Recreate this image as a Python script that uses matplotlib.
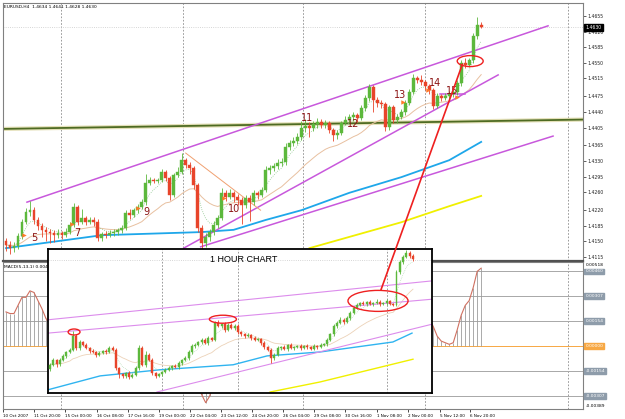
import numpy as np
import matplotlib
matplotlib.use("Agg")
import matplotlib.pyplot as plt
from matplotlib.patches import Ellipse, ConnectionPatch

# ---------------- EURUSD H4 candles ----------------
h4_first_open = 1.4150
h4_close = [1.4142, 1.4135, 1.4140, 1.4162, 1.4194, 1.4216, 1.4220, 1.4198, 1.4185, 1.4176,
            1.4171, 1.4169, 1.4164, 1.4169, 1.4164, 1.4171, 1.4187, 1.4227, 1.4194, 1.4203,
            1.4194, 1.4198, 1.4194, 1.4158, 1.4167, 1.4164, 1.4169, 1.4171, 1.4176, 1.4180,
            1.4214, 1.4209, 1.4220, 1.4227, 1.4238, 1.4281, 1.4288, 1.4286, 1.4288, 1.4306,
            1.4292, 1.4254, 1.4299, 1.4306, 1.4332, 1.4321, 1.4315, 1.4276, 1.4180, 1.4147,
            1.4160, 1.4171, 1.4187, 1.4203, 1.4259, 1.4250, 1.4259, 1.4250, 1.4243, 1.4232,
            1.4247, 1.4238, 1.4259, 1.4254, 1.4265, 1.4310, 1.4315, 1.4319, 1.4326, 1.4328,
            1.4362, 1.4371, 1.4375, 1.4384, 1.4404, 1.4409, 1.4404, 1.4413, 1.4418, 1.4411,
            1.4415, 1.4400, 1.4388, 1.4393, 1.4415, 1.4422, 1.4429, 1.4433, 1.4427, 1.4449,
            1.4471, 1.4496, 1.4467, 1.4460, 1.4458, 1.4406, 1.4451, 1.4422, 1.4429, 1.4440,
            1.4460, 1.4485, 1.4516, 1.4512, 1.4507, 1.4498, 1.4489, 1.4453, 1.4476, 1.4471,
            1.4476, 1.4480, 1.4485, 1.4505, 1.4550, 1.4545, 1.4556, 1.4610, 1.4634, 1.4630]
h4_high = [1.4158, 1.4150, 1.4148, 1.4168, 1.4200, 1.4225, 1.4240, 1.4228, 1.4205, 1.4192,
           1.4182, 1.4178, 1.4175, 1.4177, 1.4174, 1.4180, 1.4194, 1.4236, 1.4232, 1.4222,
           1.4208, 1.4205, 1.4204, 1.4200, 1.4172, 1.4173, 1.4175, 1.4178, 1.4181, 1.4186,
           1.4220, 1.4222, 1.4226, 1.4234, 1.4244, 1.4300, 1.4294, 1.4292, 1.4293, 1.4312,
           1.4310, 1.4296, 1.4304, 1.4316, 1.4348, 1.4338, 1.4328, 1.4320, 1.4282, 1.4186,
           1.4168, 1.4178, 1.4195, 1.4210, 1.4270, 1.4266, 1.4268, 1.4264, 1.4256, 1.4250,
           1.4255, 1.4254, 1.4266, 1.4264, 1.4272, 1.4318, 1.4322, 1.4326, 1.4334, 1.4336,
           1.4370, 1.4378, 1.4383, 1.4392, 1.4420, 1.4424, 1.4418, 1.4420, 1.4426, 1.4424,
           1.4422, 1.4420, 1.4405, 1.4400, 1.4420, 1.4430, 1.4436, 1.4440, 1.4438, 1.4456,
           1.4478, 1.4502, 1.4500, 1.4474, 1.4466, 1.4462, 1.4456, 1.4456, 1.4436, 1.4446,
           1.4466, 1.4492, 1.4524, 1.4520, 1.4522, 1.4512, 1.4502, 1.4494, 1.4482, 1.4480,
           1.4482, 1.4486, 1.4492, 1.4512, 1.4556, 1.4560, 1.4562, 1.4618, 1.4652, 1.4641]
h4_low = [1.4128, 1.4122, 1.4126, 1.4134, 1.4155, 1.4188, 1.4208, 1.4190, 1.4176, 1.4160,
          1.4150, 1.4146, 1.4148, 1.4158, 1.4155, 1.4160, 1.4166, 1.4182, 1.4186, 1.4188,
          1.4186, 1.4189, 1.4185, 1.4150, 1.4152, 1.4157, 1.4159, 1.4163, 1.4165, 1.4170,
          1.4176, 1.4200, 1.4204, 1.4214, 1.4222, 1.4232, 1.4276, 1.4280, 1.4280, 1.4284,
          1.4286, 1.4243, 1.4250, 1.4295, 1.4300, 1.4314, 1.4300, 1.4268, 1.4172, 1.4133,
          1.4138, 1.4150, 1.4165, 1.4180, 1.4198, 1.4240, 1.4244, 1.4238, 1.4232, 1.4190,
          1.4225, 1.4196, 1.4232, 1.4246, 1.4250, 1.4260, 1.4302, 1.4308, 1.4312, 1.4318,
          1.4322, 1.4355, 1.4364, 1.4368, 1.4378, 1.4396, 1.4385, 1.4398, 1.4405, 1.4404,
          1.4403, 1.4392, 1.4374, 1.4380, 1.4388, 1.4410, 1.4416, 1.4420, 1.4418, 1.4422,
          1.4442, 1.4465, 1.4440, 1.4452, 1.4450, 1.4398, 1.4400, 1.4415, 1.4416, 1.4424,
          1.4434, 1.4455, 1.4480, 1.4504, 1.4500, 1.4490, 1.4480, 1.4446, 1.4448, 1.4464,
          1.4466, 1.4470, 1.4474, 1.4478, 1.4498, 1.4538, 1.4540, 1.4550, 1.4604, 1.4628]

# MACD(5,13,1) main value per H4 bar
macd = [0.0021, 0.0020, 0.0020, 0.0025, 0.0030, 0.0030, 0.0034, 0.0033, 0.0028, 0.0023,
        0.0017, 0.0013, 0.0009, 0.0006, 0.0003, 0.0003, 0.0007, 0.0018, 0.0014, 0.0013,
        0.0010, 0.0009, 0.0007, -0.0003, -0.0004, -0.0005, -0.0004, -0.0003, -0.0001, 0.0001,
        0.0012, 0.0014, 0.0017, 0.0020, 0.0024, 0.0038, 0.0042, 0.0040, 0.0037, 0.0038,
        0.0033, 0.0018, 0.0024, 0.0026, 0.0032, 0.0030, 0.0026, 0.0010, -0.0024, -0.0030,
        -0.0035, -0.0031, -0.0022, -0.0014, 0.0005, 0.0008, 0.0012, 0.0011, 0.0008, 0.0004,
        0.0006, 0.0004, 0.0009, 0.0009, 0.0012, 0.0025, 0.0029, 0.0030, 0.0031, 0.0030,
        0.0038, 0.0040, 0.0039, 0.0038, 0.0042, 0.0040, 0.0035, 0.0033, 0.0030, 0.0025,
        0.0022, 0.0014, 0.0006, 0.0005, 0.0012, 0.0016, 0.0019, 0.0020, 0.0017, 0.0023,
        0.0032, 0.0040, 0.0030, 0.0024, 0.0019, 0.0002, 0.0010, 0.0004, 0.0004, 0.0007,
        0.0014, 0.0022, 0.0032, 0.0030, 0.0026, 0.0021, 0.0017, 0.0012, 0.0006, 0.0003,
        0.0002, 0.0001, 0.0002, 0.0010, 0.0019, 0.0025, 0.0028, 0.0036, 0.0046, 0.0048]

# long moving averages (bar index, price)
blue_bars = [0, 24, 49, 57, 65, 74, 86, 99, 111, 119]
blue_vals = [1.4135, 1.4164, 1.4171, 1.4176, 1.4198, 1.4220, 1.4259, 1.4294, 1.4332, 1.4373]
yellow_bars = [76, 99, 111, 119]
yellow_vals = [1.4135, 1.4193, 1.4229, 1.4252]

# drawn objects: trend lines ((bar0, price0), (bar1, price1))
channel_lines = [((5.25, 1.4238), (135.75, 1.4633)),
                 ((44.5, 1.4135), (123.25, 1.4523)),
                 ((48.75, 1.4138), (137.0, 1.4386)),
                 ((108.75, 1.4480), (115.0, 1.4480))]
olive_line = ((-1.25, 1.4402), (144.5, 1.4423))
orange_line = ((45.0, 1.4348), (63.75, 1.4220))

wave_labels = ["5", "7", "9", "10", "11", "12", "13", "14", "15"]
wave_bars = [7.0, 17.75, 35.25, 57.0, 75.5, 87.0, 98.75, 107.5, 111.75]
wave_prices = [1.4158, 1.4169, 1.4216, 1.4223, 1.4427, 1.4413, 1.4478, 1.4505, 1.4487]
arrow_bars = [4.5, 16.5, 33.0, 54.5, 99.5, 105.75, 113.0]
arrow_prices = [1.4164, 1.4189, 1.4225, 1.4247, 1.4462, 1.4489, 1.4474]

price_ticks = [1.4655, 1.4620, 1.4585, 1.4550, 1.4515, 1.4475, 1.4440, 1.4405,
               1.4365, 1.4330, 1.4295, 1.4260, 1.4220, 1.4185, 1.4150, 1.4115]
macd_levels = [0.00460, 0.00307, 0.00154, 0.0, -0.00154, -0.00307]
grid_bars = [13.75, 44.25, 74.5, 105.0, 140.75]
date_bars = [-0.75, 7.0, 14.75, 22.75, 30.5, 38.25, 46.0, 53.75, 61.5, 69.25,
             77.25, 85.0, 93.0, 100.75, 108.75, 116.25]
date_labels = ["10 Oct 2007", "11 Oct 20:00", "15 Oct 00:00", "16 Oct 08:00",
               "17 Oct 16:00", "19 Oct 00:00", "22 Oct 04:00", "23 Oct 12:00",
               "24 Oct 20:00", "26 Oct 04:00", "29 Oct 08:00", "30 Oct 16:00",
               "1 Nov 08:00", "2 Nov 00:00", "5 Nov 12:00", "6 Nov 20:00"]

# ---------------- 1 hour chart (inset) ----------------
h1_first_open = 1.4430
h1_close = [1.4437, 1.4446, 1.4438, 1.4446, 1.4453, 1.4460, 1.4464, 1.4489, 1.4467, 1.4478,
            1.4473, 1.4467, 1.4462, 1.4460, 1.4455, 1.4458, 1.4462, 1.4460, 1.4467, 1.4464,
            1.4431, 1.4420, 1.4417, 1.4422, 1.4415, 1.4419, 1.4431, 1.4467, 1.4437, 1.4455,
            1.4446, 1.4422, 1.4417, 1.4420, 1.4424, 1.4428, 1.4431, 1.4435, 1.4433, 1.4440,
            1.4446, 1.4449, 1.4460, 1.4471, 1.4473, 1.4478, 1.4482, 1.4476, 1.4485, 1.4482,
            1.4512, 1.4507, 1.4510, 1.4500, 1.4509, 1.4503, 1.4507, 1.4496, 1.4492, 1.4489,
            1.4491, 1.4485, 1.4482, 1.4483, 1.4476, 1.4469, 1.4464, 1.4449, 1.4455, 1.4467,
            1.4469, 1.4465, 1.4473, 1.4467, 1.4469, 1.4471, 1.4467, 1.4471, 1.4469, 1.4465,
            1.4471, 1.4469, 1.4473, 1.4474, 1.4482, 1.4492, 1.4507, 1.4512, 1.4518, 1.4514,
            1.4521, 1.4530, 1.4539, 1.4545, 1.4548, 1.4546, 1.4550, 1.4546, 1.4548, 1.4550,
            1.4546, 1.4548, 1.4552, 1.4546, 1.4545, 1.4604, 1.4622, 1.4631, 1.4638, 1.4633,
            1.4627]
# wick lengths in pips above / below the body
h1_wick_up = [3, 4, 2, 3, 3, 2, 3, 8, 3, 4, 2, 3, 2, 3, 2, 3, 2, 3, 4, 3,
              3, 2, 3, 2, 3, 3, 4, 5, 4, 6, 4, 3, 2, 3, 2, 3, 3, 2, 3, 3,
              2, 3, 4, 3, 3, 2, 4, 3, 3, 2, 4, 5, 3, 4, 3, 3, 4, 3, 2, 3,
              3, 2, 3, 3, 2, 3, 2, 3, 4, 3, 2, 3, 2, 3, 2, 2, 3, 2, 3, 2,
              3, 2, 3, 3, 4, 3, 4, 3, 5, 3, 3, 4, 3, 3, 2, 3, 2, 3, 2, 5,
              3, 2, 3, 2, 3, 4, 3, 3, 6, 4, 3]
h1_wick_dn = [4, 3, 5, 3, 2, 3, 2, 3, 4, 3, 3, 2, 3, 2, 4, 3, 2, 3, 2, 3,
              3, 6, 3, 4, 3, 2, 3, 3, 3, 4, 3, 4, 3, 2, 3, 2, 3, 3, 2, 3,
              3, 2, 3, 4, 3, 2, 3, 2, 3, 2, 3, 2, 3, 4, 3, 2, 3, 3, 4, 3,
              2, 3, 3, 2, 3, 3, 2, 8, 4, 3, 3, 2, 3, 2, 3, 2, 3, 2, 3, 2,
              2, 3, 2, 3, 3, 2, 3, 3, 2, 3, 2, 3, 2, 2, 3, 2, 3, 2, 3, 2,
              3, 2, 3, 2, 3, 2, 3, 3, 2, 3, 3]
h1_blue_bars = [-0.6, 15.2, 33.3, 55.5, 65.8, 81.8, 103.9, 109.7]
h1_blue_vals = [1.4392, 1.4417, 1.4428, 1.4437, 1.4453, 1.4460, 1.4478, 1.4494]
h1_yellow_bars = [66.7, 81.8, 110.0]
h1_yellow_vals = [1.4388, 1.4406, 1.4447]
h1_channel = [((-0.6, 1.4494), (115.75, 1.4555)),
              ((-0.6, 1.4518), (115.75, 1.4588)),
              ((32.4, 1.4388), (115.75, 1.4510))]
h1_grid_bars = [33.9, 57.0, 102.1]

# circles: (center bar, center price, width in bars, height in price)
h4_circle = (116.25, 1.4554, 6.5, 0.00246)
h1_circles = [(7.3, 1.4496, 3.6, 0.00108),
              (52.4, 1.4519, 8.2, 0.00144),
              (99.4, 1.4552, 18.2, 0.00378)]
link_from = (100.3, 1.4572)   # inset
link_to = (114.3, 1.4547)     # H4 chart

BULL = "#5cb83c"
BEAR = "#e8442a"
MAGENTA = "#c858dc"


def ema(vals, n):
    k = 2.0 / (n + 1)
    out = [vals[0]]
    for v in vals[1:]:
        out.append(out[-1] + k * (v - out[-1]))
    return out


def draw_candles(ax, o, h, l, c, width):
    o, h, l, c = map(np.asarray, (o, h, l, c))
    x = np.arange(len(c))
    cols = np.where(c >= o, BULL, BEAR)
    ax.vlines(x, l, h, colors=cols, lw=0.6, zorder=3)
    body = np.maximum(np.abs(c - o), 0.00006)
    ax.bar(x, body, bottom=np.minimum(o, c), width=width, color=cols,
           edgecolor=cols, lw=0.3, zorder=4)


W, H = 625, 419
fig = plt.figure(figsize=(W / 100, H / 100), dpi=100)
fig.patch.set_facecolor("white")


def rect(x0, y0, x1, y1):
    return [x0 / W, 1 - y1 / H, (x1 - x0) / W, (y1 - y0) / H]


ax = fig.add_axes(rect(3, 3, 583, 261))
axm = fig.add_axes(rect(3, 262, 583, 409), sharex=ax)
axi = fig.add_axes(rect(48, 249, 432, 393))
axi.set_zorder(5)

# ---------------- main H4 chart ----------------
h4_open = [h4_first_open] + h4_close[:-1]
bars = np.arange(len(h4_close))
for g in grid_bars:
    ax.axvline(g, color="#8a8a8a", lw=0.6, ls=(0, (2, 2)), zorder=1)
    axm.axvline(g, color="#8a8a8a", lw=0.6, ls=(0, (2, 2)), zorder=1)
ax.axhline(h4_close[-1], color="#c8c8c8", lw=0.6, ls=":", zorder=1)

ax.plot(*zip(*olive_line), color="#e4e0b8", lw=3.0, zorder=2)
ax.plot(*zip(*olive_line), color="#4e6b22", lw=1.3, zorder=2)
ax.plot(blue_bars, blue_vals, color="#1ea7ea", lw=1.3, zorder=2)
ax.plot(yellow_bars, yellow_vals, color="#f0f000", lw=1.3, zorder=2)
ax.plot(bars, ema(h4_close, 21), color="#e8c0a0", lw=0.7, zorder=2)
ax.plot(bars, ema(h4_close, 5), color="#90c890", lw=0.6, ls=":", zorder=2)
for p0, p1 in channel_lines:
    ax.plot([p0[0], p1[0]], [p0[1], p1[1]], color=MAGENTA, lw=1.1, zorder=2)
ax.plot(*zip(*orange_line), color="#f0a070", lw=0.7, zorder=2)

draw_candles(ax, h4_open, h4_high, h4_low, h4_close, 0.7)

ax.plot(arrow_bars, arrow_prices, ">", color="#ff7a2a", ms=3.2, mew=0, zorder=5)
for t, b, p in zip(wave_labels, wave_bars, wave_prices):
    ax.text(b, p, t, color="#8b1212", fontsize=7, ha="center", va="center", zorder=6)

cx, cy, cw, ch = h4_circle
ax.add_patch(Ellipse((cx, cy), cw, ch, fill=False, ec="#ee2020", lw=1.0, zorder=6))

ax.set_xlim(-0.5, 144.5)
ax.set_ylim(1.41062, 1.46841)
ax.yaxis.tick_right()
ax.set_yticks(price_ticks)
ax.set_yticklabels([f"{v:.4f}" for v in price_ticks])
ax.tick_params(axis="y", labelsize=3.3, length=2, width=0.5, pad=1.5, colors="#202020")
ax.tick_params(axis="x", bottom=False, labelbottom=False)
ax.text(1.004, h4_close[-1], f"{h4_close[-1]:.4f}", transform=ax.get_yaxis_transform(),
        fontsize=3.3, color="white", va="center", ha="left",
        bbox=dict(boxstyle="square,pad=0.25", fc="black", ec="black"))
ax.text(0.002, 0.992, "EURUSD,H4  1.4634 1.4641 1.4628 1.4630", transform=ax.transAxes,
        fontsize=3.2, va="top", ha="left")

# ---------------- MACD panel ----------------
for lv in macd_levels:
    col = "#f7a844" if lv == 0 else "#a8a8a8"
    axm.axhline(lv, color=col, lw=0.7, zorder=1)
axm.vlines(bars, 0, macd, colors="#9c9c9c", lw=0.6, zorder=2)
axm.plot(bars, macd, color="#d07060", lw=0.8, zorder=3)
axm.set_ylim(-0.00389, 0.00518)
axm.set_yticks([])
axm.set_xticks(date_bars)
axm.set_xticklabels(date_labels, ha="left")
axm.tick_params(axis="x", labelsize=3.0, length=2, width=0.5, pad=1.5)
axm.text(0.002, 0.965, "MACD(5,13,1) 0.0048 0.0048", transform=axm.transAxes,
         fontsize=3.2, va="center", ha="left")
ytr = axm.get_yaxis_transform()
axm.text(1.004, 0.00500, "0.00518", transform=ytr, fontsize=3.2, va="center")
axm.text(1.004, -0.00370, "-0.00389", transform=ytr, fontsize=3.2, va="center")
for lv in macd_levels:
    fc = "#f7a844" if lv == 0 else "#8e9caa"
    axm.text(1.004, lv, f"{lv:.5f}", transform=ytr, fontsize=3.2, color="white",
             va="center", ha="left", bbox=dict(boxstyle="square,pad=0.2", fc=fc, ec=fc))

for a in (ax, axm):
    for s in a.spines.values():
        s.set_color("#808080")
        s.set_linewidth(0.8)
ax.spines["bottom"].set_color("#505050")
ax.spines["bottom"].set_linewidth(1.6)

# ---------------- 1 hour inset ----------------
h1_open = [h1_first_open] + h1_close[:-1]
h1_high = [max(o, c) + u * 0.0001 for o, c, u in zip(h1_open, h1_close, h1_wick_up)]
h1_low = [min(o, c) - d * 0.0001 for o, c, d in zip(h1_open, h1_close, h1_wick_dn)]
h1_bars = np.arange(len(h1_close))

axi.set_facecolor("white")
for g in h1_grid_bars:
    axi.axvline(g, color="#8a8a8a", lw=0.6, ls=(0, (2, 2)), zorder=1)
axi.axhline(1.4626, color="#c8c8c8", lw=0.6, ls=":", zorder=1)
axi.plot(h1_blue_bars, h1_blue_vals, color="#30b4f0", lw=1.0, zorder=2)
axi.plot(h1_yellow_bars, h1_yellow_vals, color="#f0f000", lw=1.0, zorder=2)
axi.plot(h1_bars, ema(h1_close, 21), color="#ecd2b8", lw=0.6, zorder=2)
axi.plot(h1_bars, ema(h1_close, 5), color="#a8d4a8", lw=0.5, ls=":", zorder=2)
for p0, p1 in h1_channel:
    axi.plot([p0[0], p1[0]], [p0[1], p1[1]], color="#dc8cec", lw=0.8, zorder=2)
draw_candles(axi, h1_open, h1_high, h1_low, h1_close, 0.6)
for cx, cy, cw, ch in h1_circles:
    axi.add_patch(Ellipse((cx, cy), cw, ch, fill=False, ec="#ee2020", lw=1.0, zorder=6))
axi.text(0.51, 0.925, "1 HOUR CHART", transform=axi.transAxes, fontsize=6.5,
         family="Liberation Sans", ha="center", va="center")
axi.set_xlim(-0.6, 115.76)
axi.set_ylim(1.43862, 1.46454)
axi.set_xticks([])
axi.set_yticks([])
for s in axi.spines.values():
    s.set_color("black")
    s.set_linewidth(1.3)

con = ConnectionPatch(xyA=link_from, coordsA=axi.transData,
                      xyB=link_to, coordsB=ax.transData,
                      color="#ee2020", lw=1.2, zorder=10)
fig.add_artist(con)

fig.savefig("out.png", dpi=100, facecolor="white")
